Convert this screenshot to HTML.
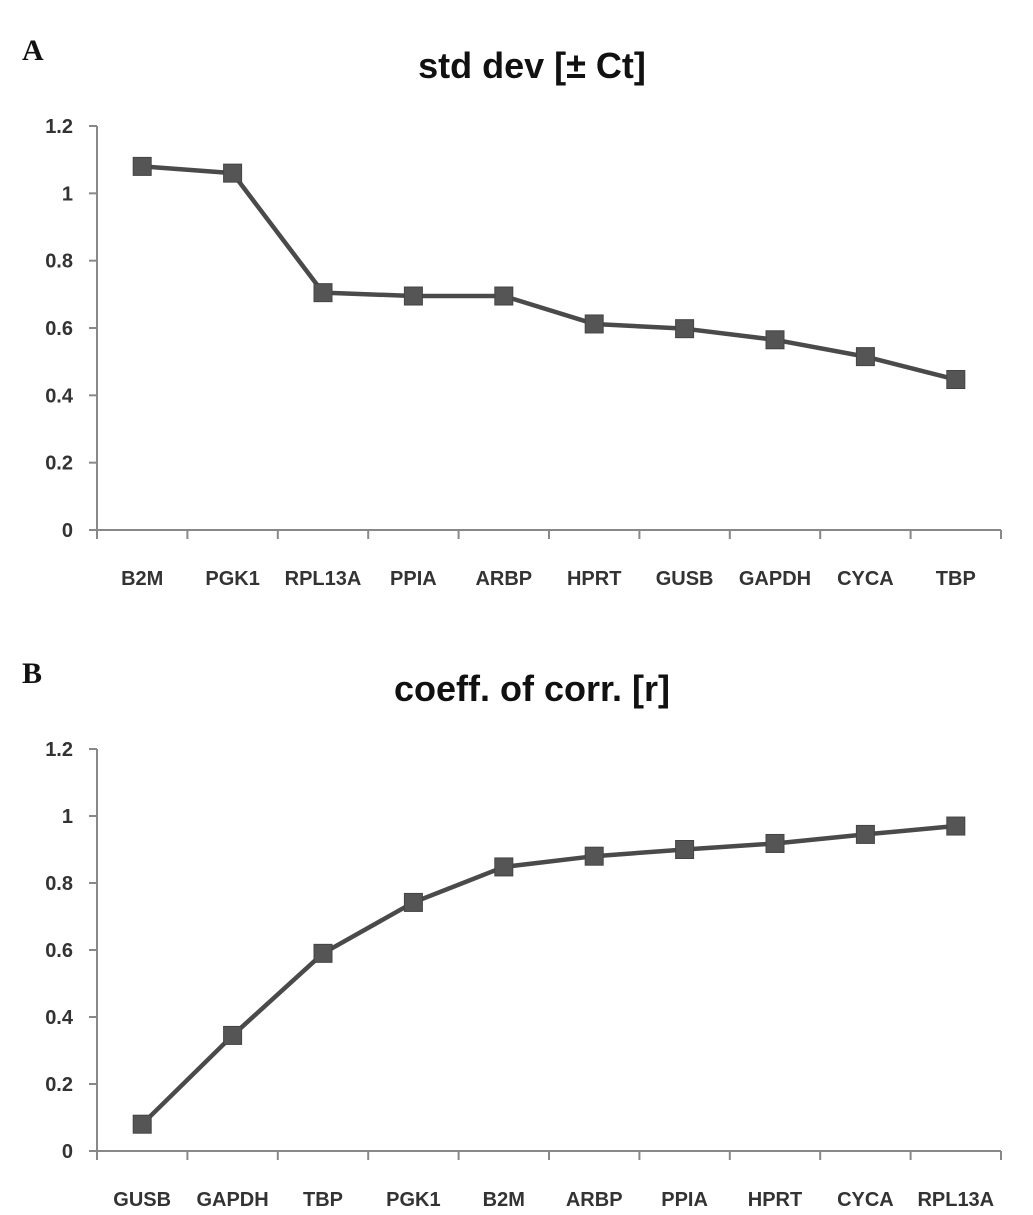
<!DOCTYPE html>
<html><head><meta charset="utf-8"><style>
html,body{margin:0;padding:0;background:#fff;}
svg{display:block;font-family:"Liberation Sans",sans-serif;}
</style></head><body>
<svg id="s" width="1033" height="1215"></svg>
<script>
const catsA=["B2M","PGK1","RPL13A","PPIA","ARBP","HPRT","GUSB","GAPDH","CYCA","TBP"];
const valsA=[1.08,1.06,0.705,0.695,0.695,0.612,0.598,0.565,0.515,0.447];
const catsB=["GUSB","GAPDH","TBP","PGK1","B2M","ARBP","PPIA","HPRT","CYCA","RPL13A"];
const valsB=[0.08,0.345,0.59,0.742,0.848,0.88,0.9,0.918,0.945,0.97];
const yTicks=["0","0.2","0.4","0.6","0.8","1","1.2"];
const NS="http://www.w3.org/2000/svg";
const svg=document.getElementById('s');
function el(t,a,p){const e=document.createElementNS(NS,t);for(const k in a)e.setAttribute(k,a[k]);(p||svg).appendChild(e);return e;}
function chart(id,letter,title,cats,vals,top,bottom){
  const g=el('g',{});
  
  
  const x0=97,x1=1001,n=cats.length,w=(x1-x0)/n;
  const y=v=>bottom-(v/1.2)*(bottom-top);
  const xc=i=>x0+w*(i+0.5);
  const L=el('text',{x:22,y:top-66,'font-family':'Liberation Serif,serif','font-weight':'bold','font-size':30,fill:'#111'},g);L.textContent=letter;
  
  const T=el('text',{x:532,y:top-48,'text-anchor':'middle','font-weight':'bold','font-size':36,fill:'#111'},g);T.textContent=title;
  
  el('line',{x1:x0,y1:top,x2:x0,y2:bottom,stroke:'#888','stroke-width':2},g);
  el('line',{x1:x0,y1:bottom,x2:x1,y2:bottom,stroke:'#888','stroke-width':2},g);
  yTicks.forEach((t,i)=>{const v=parseFloat(t),yy=y(v);
    el('line',{x1:x0-8,y1:yy,x2:x0,y2:yy,stroke:'#888','stroke-width':2},g);
    const tx=el('text',{x:x0-24,y:yy+7,'text-anchor':'end','font-size':20,'font-weight':'bold',fill:'#333'},g);tx.textContent=t;
    });
  for(let i=0;i<=n;i++){const xx=x0+w*i;el('line',{x1:xx,y1:bottom,x2:xx,y2:bottom+9,stroke:'#888','stroke-width':2},g);}
  cats.forEach((c,i)=>{const tx=el('text',{x:xc(i),y:bottom+55,'text-anchor':'middle','font-size':20,'font-weight':'bold',fill:'#333'},g);tx.textContent=c;
    });
  const pl=el('polyline',{points:vals.map((v,i)=>xc(i)+','+y(v)).join(' '),fill:'none',stroke:'#4a4a4a','stroke-width':4.5,'stroke-linejoin':'round'},g);
  
  vals.forEach((v,i)=>{const r=el('rect',{x:xc(i)-9,y:y(v)-9,width:18,height:18,fill:'#555',stroke:'#444','stroke-width':1},g);
    });
}
chart('chart-std-dev','A','std dev [± Ct]',catsA,valsA,126,530);
chart('chart-coeff-corr','B','coeff. of corr. [r]',catsB,valsB,749,1151);
</script>
</body></html>
